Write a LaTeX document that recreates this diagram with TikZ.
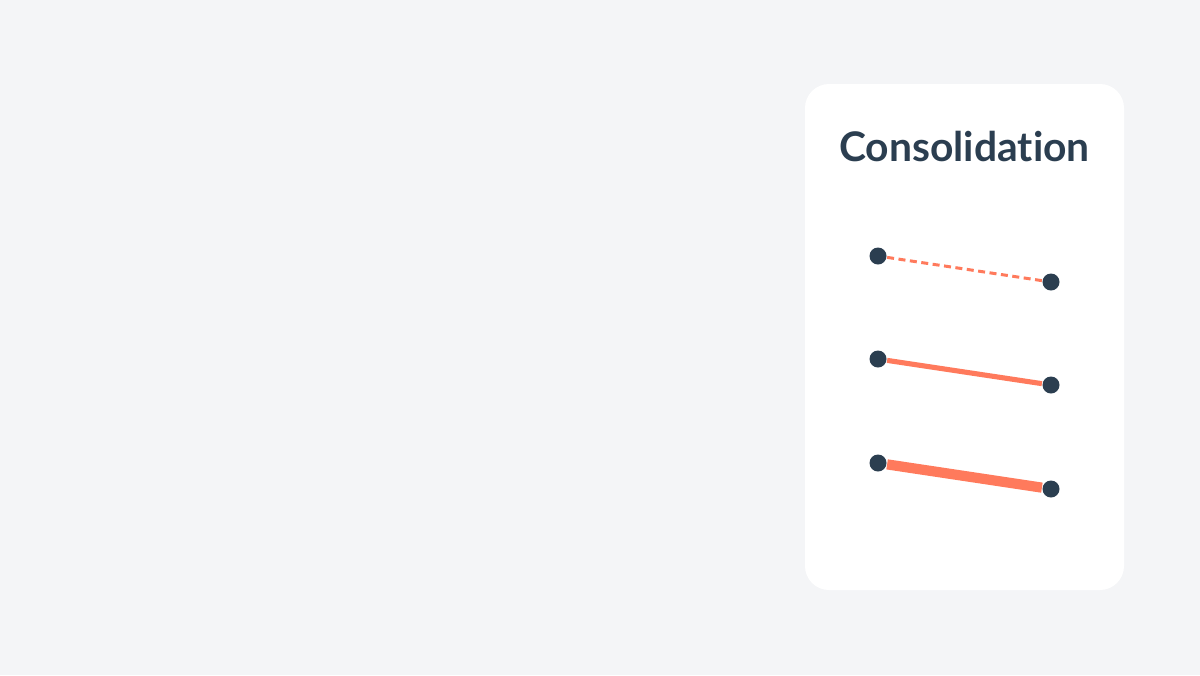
\documentclass[tikz,border=0pt]{standalone}
\usepackage{fontspec}
\setmainfont{Lato}[Ligatures={NoCommon}]
\definecolor{pagebg}{HTML}{F4F5F7}
\definecolor{navy}{HTML}{2B3E50}
\definecolor{coral}{HTML}{FF7A5C}
\begin{document}
\begin{tikzpicture}[x=0.01cm, y=-0.01cm, dot/.style={circle, fill=navy, inner sep=0pt, minimum size=0.17cm},
				dashlink/.style={coral, line width=0.85pt, dash pattern=on 0.07cm off 0.045cm},
				midlink/.style={coral, line width=1.45pt},
				boldlink/.style={coral, line width=2.9pt}]
				\useasboundingbox[fill=pagebg] (0,0) rectangle (1200,675);
				\fill[white, rounded corners=0.24cm] (805,84) rectangle (1124,590);
				\node[font=\bfseries\fontsize{11.6pt}{13pt}\selectfont, text=navy] (title) at (964.5,146) {Consolidation};
				\foreach \y/\s in {256/dashlink, 359/midlink, 463/boldlink}{
				\node[dot] (a\y) at (878,\y) {};
				\node[dot] (b\y) at (1051,\y+26) {};
				\draw[\s] (a\y)--(b\y);
				}
\end{tikzpicture}
\end{document}
